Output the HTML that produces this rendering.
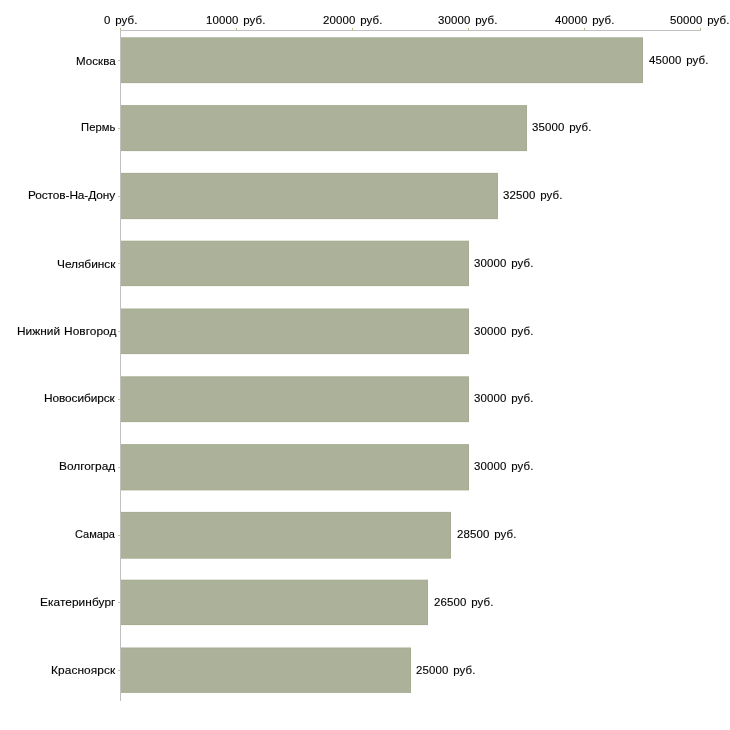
<!DOCTYPE html>
<html lang="ru"><head><meta charset="utf-8"><title>chart</title>
<style>
html,body{margin:0;padding:0;background:#fff;}
body{width:730px;height:730px;position:relative;overflow:hidden;font-family:"Liberation Sans",sans-serif;font-size:11px;word-spacing:0.5px;color:#000;line-height:14px;}
.t{position:absolute;white-space:nowrap;height:14px;transform:scaleX(1.08);transform-origin:0 0;will-change:transform;-webkit-text-stroke:0.12px #000;}
.n{transform:scaleX(1.04);word-spacing:1.3px;}
svg{position:absolute;left:0;top:0;}
</style></head><body>
<svg width="730" height="730" viewBox="0 0 730 730">
<rect x="120.80" y="37.30" width="522.20" height="45.80" fill="#a6ad92"/>
<rect x="120.80" y="38.30" width="521.20" height="43.80" fill="#acb299"/>
<rect x="120.80" y="105.10" width="406.20" height="46.00" fill="#a6ad92"/>
<rect x="120.80" y="106.10" width="405.20" height="44.00" fill="#acb299"/>
<rect x="120.80" y="172.90" width="377.20" height="46.20" fill="#a6ad92"/>
<rect x="120.80" y="173.90" width="376.20" height="44.20" fill="#acb299"/>
<rect x="120.80" y="240.70" width="348.20" height="45.40" fill="#a6ad92"/>
<rect x="120.80" y="241.70" width="347.20" height="43.40" fill="#acb299"/>
<rect x="120.80" y="308.50" width="348.20" height="45.60" fill="#a6ad92"/>
<rect x="120.80" y="309.50" width="347.20" height="43.60" fill="#acb299"/>
<rect x="120.80" y="376.30" width="348.20" height="45.80" fill="#a6ad92"/>
<rect x="120.80" y="377.30" width="347.20" height="43.80" fill="#acb299"/>
<rect x="120.80" y="444.10" width="348.20" height="46.30" fill="#a6ad92"/>
<rect x="120.80" y="445.10" width="347.20" height="44.30" fill="#acb299"/>
<rect x="120.80" y="511.90" width="330.20" height="46.80" fill="#a6ad92"/>
<rect x="120.80" y="512.90" width="329.20" height="44.80" fill="#acb299"/>
<rect x="120.80" y="579.70" width="307.20" height="45.40" fill="#a6ad92"/>
<rect x="120.80" y="580.70" width="306.20" height="43.40" fill="#acb299"/>
<rect x="120.80" y="647.50" width="290.20" height="45.40" fill="#a6ad92"/>
<rect x="120.80" y="648.50" width="289.20" height="43.40" fill="#acb299"/>
<rect x="120" y="30" width="1" height="671" fill="#c0c0c0"/>
<rect x="120" y="30" width="581" height="1" fill="#c0c0c0"/>
<rect x="120" y="28" width="1" height="2" fill="#bdb978"/>
<rect x="236" y="28" width="1" height="2" fill="#bdb978"/>
<rect x="352" y="28" width="1" height="2" fill="#bdb978"/>
<rect x="468" y="28" width="1" height="2" fill="#bdb978"/>
<rect x="584" y="28" width="1" height="2" fill="#bdb978"/>
<rect x="700" y="28" width="1" height="2" fill="#bdb978"/>
<rect x="118" y="60" width="2" height="1" fill="#c8c898"/>
<rect x="118" y="128" width="2" height="1" fill="#c8c898"/>
<rect x="118" y="196" width="2" height="1" fill="#c8c898"/>
<rect x="118" y="263" width="2" height="1" fill="#c8c898"/>
<rect x="118" y="331" width="2" height="1" fill="#c8c898"/>
<rect x="118" y="399" width="2" height="1" fill="#c8c898"/>
<rect x="118" y="467" width="2" height="1" fill="#c8c898"/>
<rect x="118" y="535" width="2" height="1" fill="#c8c898"/>
<rect x="118" y="602" width="2" height="1" fill="#c8c898"/>
<rect x="118" y="670" width="2" height="1" fill="#c8c898"/>
</svg>
<div class="t n" id="x0" style="left:104.00px;top:13px;letter-spacing:0.130px">0 руб.</div>
<div class="t n" id="x1" style="left:206.00px;top:13px;letter-spacing:0.130px">10000 руб.</div>
<div class="t n" id="x2" style="left:323.00px;top:13px;letter-spacing:0.130px">20000 руб.</div>
<div class="t n" id="x3" style="left:438.00px;top:13px;letter-spacing:0.130px">30000 руб.</div>
<div class="t n" id="x4" style="left:555.00px;top:13px;letter-spacing:0.130px">40000 руб.</div>
<div class="t n" id="x5" style="left:670.00px;top:13px;letter-spacing:0.130px">50000 руб.</div>
<div class="t" id="c0" style="left:76.00px;top:54px;letter-spacing:0.032px;transform:scaleX(1.05);">Москва</div>
<div class="t n" id="v0" style="left:649.00px;top:53px;letter-spacing:0.130px">45000 руб.</div>
<div class="t" id="c1" style="left:81.00px;top:120px;letter-spacing:0.066px;transform:scaleX(1.02);">Пермь</div>
<div class="t n" id="v1" style="left:532.00px;top:120px;letter-spacing:0.130px">35000 руб.</div>
<div class="t" id="c2" style="left:28.00px;top:188px;letter-spacing:-0.100px;">Ростов-На-Дону</div>
<div class="t n" id="v2" style="left:503.00px;top:188px;letter-spacing:0.130px">32500 руб.</div>
<div class="t" id="c3" style="left:57.00px;top:257px;letter-spacing:-0.029px;">Челябинск</div>
<div class="t n" id="v3" style="left:474.00px;top:256px;letter-spacing:0.130px">30000 руб.</div>
<div class="t" id="c4" style="left:17.00px;top:324px;letter-spacing:0.029px;">Нижний Новгород</div>
<div class="t n" id="v4" style="left:474.00px;top:324px;letter-spacing:0.130px">30000 руб.</div>
<div class="t" id="c5" style="left:44.00px;top:391px;letter-spacing:-0.089px;">Новосибирск</div>
<div class="t n" id="v5" style="left:474.00px;top:391px;letter-spacing:0.130px">30000 руб.</div>
<div class="t" id="c6" style="left:59.00px;top:459px;letter-spacing:-0.021px;">Волгоград</div>
<div class="t n" id="v6" style="left:474.00px;top:459px;letter-spacing:0.130px">30000 руб.</div>
<div class="t" id="c7" style="left:75.00px;top:527px;letter-spacing:-0.025px;transform:scaleX(1.0);">Самара</div>
<div class="t n" id="v7" style="left:457.00px;top:527px;letter-spacing:0.130px">28500 руб.</div>
<div class="t" id="c8" style="left:40.00px;top:595px;letter-spacing:0.056px;">Екатеринбург</div>
<div class="t n" id="v8" style="left:434.00px;top:595px;letter-spacing:0.130px">26500 руб.</div>
<div class="t" id="c9" style="left:51.00px;top:663px;letter-spacing:0.085px;">Красноярск</div>
<div class="t n" id="v9" style="left:416.00px;top:663px;letter-spacing:0.130px">25000 руб.</div>
</body></html>
